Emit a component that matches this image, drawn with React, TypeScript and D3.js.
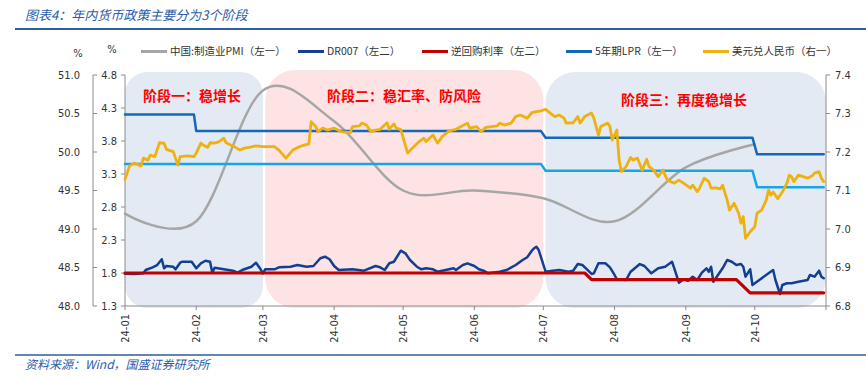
import React from "react";
import * as d3 from "d3";

// ---------- DATA ----------
const monthTickLabels = ["24-01", "24-02", "24-03", "24-04", "24-05", "24-06", "24-07", "24-08", "24-09", "24-10"];
const leftOuterTicks = [48.0, 48.5, 49.0, 49.5, 50.0, 50.5, 51.0];
const leftInnerTicks = [1.3, 1.8, 2.3, 2.8, 3.3, 3.8, 4.3, 4.8];
const rightTicks = [6.8, 6.9, 7.0, 7.1, 7.2, 7.3, 7.4];

const legendLabels = ["中国:制造业PMI（左一）", "DR007（左二）", "逆回购利率（左二）", "5年期LPR（左一）", "美元兑人民币（右一）"];
const stageLabels = ["阶段一：稳增长", "阶段二：稳汇率、防风险", "阶段三：再度稳增长"];
const stageStart = ["01-01", "03-02", "07-02"];
const stageEnd = ["03-01", "07-01", "11-01"];

const pmiDates = ["01-01", "02-01", "03-01", "04-01", "05-01", "06-01", "07-01", "08-01", "09-01", "10-01"];
const pmiValues = [49.2, 49.1, 50.8, 50.4, 49.5, 49.5, 49.4, 49.1, 49.8, 50.1];

const lpr5Dates = ["01-01", "01-31", "02-01", "06-30", "07-02", "09-30", "10-02", "10-31"];
const lpr5Values = [4.2, 4.2, 3.95, 3.95, 3.85, 3.85, 3.6, 3.6];
const lpr1Dates = ["01-01", "06-30", "07-02", "09-30", "10-02", "10-31"];
const lpr1Values = [3.45, 3.45, 3.35, 3.35, 3.1, 3.1];

const repoDates = ["01-01", "07-19", "07-22", "09-23", "09-29", "10-31"];
const repoValues = [1.8, 1.8, 1.7, 1.7, 1.5, 1.5];

const dr007Dates = ["01-01","01-05","01-09","01-10","01-13","01-15","01-17","01-18","01-19","01-22","01-23","01-25","01-26","01-30",
"02-01","02-03","02-05","02-07","02-08","02-09","02-13","02-17","02-19","02-21","02-25","02-27","02-29",
"03-01","03-02","03-06","03-08","03-13","03-16","03-20","03-23","03-26","03-28","03-30",
"04-01","04-03","04-09","04-14","04-19","04-21","04-23","04-25","04-27","04-30",
"05-02","05-04","05-07","05-09","05-11","05-14","05-16","05-21","05-23","05-24","05-27","05-29",
"06-01","06-03","06-05","06-07","06-12","06-15","06-19","06-22","06-24","06-26","06-27","06-28","06-29",
"07-02","07-05","07-08","07-12","07-14","07-16","07-18","07-20","07-22","07-23","07-25","07-28","07-30",
"08-01","08-02","08-06","08-08","08-12","08-14","08-17","08-20","08-23","08-26","08-27","08-29","08-31",
"09-02","09-04","09-06","09-08","09-10","09-11","09-12","09-13","09-15","09-17","09-19","09-21","09-23","09-25","09-26","09-27","09-29","09-30",
"10-03","10-07","10-09","10-10","10-12","10-13","10-15","10-17","10-20","10-24","10-25","10-27","10-29","10-30","10-31"];
const dr007Values = [1.79,1.785,1.795,1.845,1.886,1.921,2.008,1.871,1.906,1.895,1.856,1.956,1.971,1.971,
1.871,1.947,1.986,1.971,1.805,1.88,1.856,1.835,1.805,1.845,1.895,1.956,1.856,
1.795,1.856,1.856,1.886,1.895,1.921,1.895,1.906,2.023,2.047,2.008,
1.906,1.845,1.856,1.835,1.906,1.886,1.845,1.947,1.971,2.138,
2.098,1.997,1.895,1.856,1.871,1.856,1.82,1.856,1.871,1.845,1.921,1.947,
1.906,1.856,1.835,1.795,1.82,1.845,1.921,1.997,2.038,2.138,2.174,2.198,2.148,
1.82,1.835,1.845,1.82,1.835,1.936,1.921,1.856,1.785,1.795,1.947,1.947,1.886,
1.77,1.705,1.694,1.82,1.936,1.906,1.795,1.871,1.895,1.971,1.871,1.653,1.705,
1.683,1.744,1.694,1.805,1.871,1.82,1.895,1.668,1.77,1.871,1.997,1.971,1.921,1.936,1.895,1.744,1.856,1.618,
1.694,1.795,1.845,1.694,1.482,1.618,1.644,1.644,1.668,1.694,1.77,1.744,1.835,1.744,1.72];

const usdcnyDates = ["01-01","01-03","01-05","01-08","01-09","01-11","01-12","01-14","01-16","01-18","01-19","01-22","01-24","01-25","01-28","01-31",
"02-01","02-03","02-04","02-06","02-07","02-09","02-11","02-13","02-14","02-16","02-17","02-20","02-22","02-24","02-27",
"03-01","03-06","03-08","03-11","03-14","03-17","03-19","03-21","03-22","03-24","03-25","03-27","03-29",
"04-01","04-04","04-08","04-09","04-12","04-13","04-15","04-17","04-19","04-21","04-24","04-25","04-27","04-28","04-30",
"05-03","05-05","05-08","05-10","05-11","05-14","05-16","05-18","05-21","05-24","05-29","05-30",
"06-02","06-04","06-06","06-11","06-12","06-14","06-17","06-19","06-21","06-24","06-26","06-28","06-30",
"07-02","07-04","07-06","07-08","07-10","07-11","07-14","07-16","07-17","07-19","07-22","07-23","07-25","07-26","07-29","07-30","07-31",
"08-02","08-03","08-04","08-06","08-08","08-09","08-11","08-13","08-15","08-16","08-18","08-20","08-22","08-24","08-27","08-29","08-31",
"09-03","09-04","09-06","09-07","09-09","09-11","09-12","09-14","09-16","09-17","09-19","09-20","09-22","09-24","09-25","09-26","09-27","09-29",
"10-01","10-02","10-04","10-06","10-07","10-08","10-09","10-11","10-13","10-15","10-16","10-17","10-18","10-20","10-22","10-24","10-26","10-27","10-29","10-30","10-31"];
const usdcnyValues = [7.129,7.164,7.171,7.164,7.184,7.179,7.192,7.188,7.224,7.223,7.207,7.201,7.166,7.188,7.19,7.188,
7.197,7.223,7.218,7.212,7.224,7.223,7.227,7.236,7.224,7.218,7.216,7.205,7.21,7.212,7.216,
7.214,7.214,7.205,7.184,7.205,7.214,7.218,7.221,7.279,7.266,7.253,7.262,7.257,
7.262,7.253,7.25,7.266,7.268,7.275,7.27,7.253,7.257,7.259,7.276,7.259,7.273,7.262,7.258,
7.197,7.21,7.227,7.236,7.227,7.244,7.223,7.24,7.255,7.259,7.275,7.262,
7.266,7.253,7.264,7.268,7.275,7.27,7.275,7.292,7.296,7.288,7.302,7.305,7.307,
7.311,7.301,7.292,7.296,7.288,7.275,7.276,7.292,7.275,7.292,7.301,7.288,7.244,7.266,7.275,7.266,7.231,
7.257,7.179,7.149,7.162,7.186,7.179,7.184,7.153,7.181,7.162,7.153,7.136,7.153,7.127,7.119,7.127,7.119,
7.106,7.114,7.097,7.106,7.132,7.123,7.106,7.107,7.104,7.114,7.075,7.049,7.067,7.041,7.015,7.032,6.976,6.993,
7.006,7.041,7.049,7.075,7.101,7.088,7.096,7.079,7.096,7.119,7.14,7.136,7.123,7.14,7.136,7.132,7.138,7.145,7.149,7.132,7.123];

// ---------- HELPERS ----------
const parse = (s: string) => d3.timeParse("%Y-%m-%d")("2024-" + s) as Date;
const zip = (ds: string[], vs: number[]) => ds.map((d, i) => ({ d: parse(d), v: vs[i] }));

const W = 866, H = 380;
const X0 = 125, X1 = 826, Y0 = 75, Y1 = 306;

const x = d3.scaleTime().domain([parse("01-01"), parse("11-01")]).range([X0, X1]);
const yOuter = d3.scaleLinear().domain([48, 51]).range([Y1, Y0]);
const yInner = d3.scaleLinear().domain([1.3, 4.8]).range([Y1, Y0]);
const yRight = d3.scaleLinear().domain([6.8, 7.4]).range([Y1, Y0]);

const C = {
  pmi: "#A6A6A6",
  dr: "#123F93",
  repo: "#C00000",
  lpr5: "#1468BA",
  lpr1: "#16A6E6",
  fx: "#EDB112",
  axis: "#8C8C8C",
  text: "#333333",
  title: "#2A5CAA",
  rule: "#2E5C9E",
};

const AXIS_FONT = "'DejaVu Sans Condensed', 'Liberation Sans', Arial, sans-serif";
const CJK_FONT = "'Noto Sans CJK SC', 'Noto Sans', sans-serif";

export default function App() {
  const mk = (ys: d3.ScaleLinear<number, number>, curve: d3.CurveFactory = d3.curveLinear) =>
    d3.line<{ d: Date; v: number }>().x((p) => x(p.d)).y((p) => ys(p.v)).curve(curve);

  const pmiPath = mk(yOuter, d3.curveCardinal.tension(0))(zip(pmiDates, pmiValues)) || "";
  const drPath = mk(yInner)(zip(dr007Dates, dr007Values)) || "";
  const repoPath = mk(yInner)(zip(repoDates, repoValues)) || "";
  const lpr5Path = mk(yInner)(zip(lpr5Dates, lpr5Values)) || "";
  const lpr1Path = mk(yInner)(zip(lpr1Dates, lpr1Values)) || "";
  const fxPath = mk(yRight)(zip(usdcnyDates, usdcnyValues)) || "";

  const monthDates = monthTickLabels.map((_, i) => new Date(2024, i, 1));
  const stageFill = ["#E4EAF3", "#FDE3E3", "#E4EAF3"];
  const stageTop = [72, 70, 72];
  const stageTextX = [192, 404, 684];
  const stageTextY = [101, 101, 105];

  const legendColors = [C.pmi, C.dr, C.repo, C.lpr5, C.fx];
  const legendLineX = [141, 298, 422, 566, 703];

  return (
    <svg width={W} height={H} style={{ position: "absolute", left: 0, top: 0, background: "#fff" }}>
      <rect x={0} y={0} width={W} height={H} fill="#fff" />
      {/* title */}
      <text x={25} y={20} fontSize={13} fontStyle="italic" fill={C.title} fontFamily={CJK_FONT}>
        图表4：年内货币政策主要分为3个阶段
      </text>
      <line x1={15} x2={W} y1={29} y2={29} stroke={C.rule} strokeWidth={2} />
      <line x1={15} x2={W} y1={355} y2={355} stroke={C.rule} strokeWidth={1.5} />
      <text x={25} y={369} fontSize={12} fontStyle="italic" fill={C.title} fontFamily={CJK_FONT}>
        资料来源：Wind，国盛证券研究所
      </text>

      {/* stage backgrounds */}
      {stageLabels.map((_, i) => {
        const xa = x(parse(stageStart[i]));
        const xb = i === 2 ? X1 : x(parse(stageEnd[i]));
        return (
          <rect key={"st" + i} x={xa} y={stageTop[i]} width={xb - xa} height={308 - stageTop[i]}
            rx={i === 0 ? 22 : 30} ry={i === 0 ? 22 : 30} fill={stageFill[i]} />
        );
      })}
      {stageLabels.map((s, i) => (
        <text key={"sl" + i} x={stageTextX[i]} y={stageTextY[i]} textAnchor="middle" fontSize={14}
          fontWeight="bold" fill="#FF0000" fontFamily={CJK_FONT}>
          {s}
        </text>
      ))}

      {/* axes */}
      <g stroke={C.axis} strokeWidth={1} fill="none">
        <line x1={93} x2={93} y1={Y0} y2={Y1} />
        <line x1={X0} x2={X0} y1={Y0} y2={Y1} />
        <line x1={X1} x2={X1} y1={Y0} y2={Y1} />
        <line x1={X0} x2={X1} y1={Y1} y2={Y1} />
        {leftOuterTicks.map((t) => <line key={"lo" + t} x1={93} x2={97} y1={yOuter(t)} y2={yOuter(t)} />)}
        {leftInnerTicks.map((t) => <line key={"li" + t} x1={121} x2={X0} y1={yInner(t)} y2={yInner(t)} />)}
        {rightTicks.map((t) => <line key={"rt" + t} x1={X1} x2={X1 + 4} y1={yRight(t)} y2={yRight(t)} />)}
        {monthDates.map((d, i) => <line key={"xt" + i} x1={x(d)} x2={x(d)} y1={Y1} y2={Y1 + 4} />)}
        <line x1={X1} x2={X1} y1={Y1} y2={Y1 + 4} />
      </g>
      <g fontFamily={AXIS_FONT} fontSize={11} fill={C.text}>
        {leftOuterTicks.map((t) => (
          <text key={"lot" + t} x={80} y={yOuter(t)} dy="0.35em" textAnchor="end">{t.toFixed(1)}</text>
        ))}
        {leftInnerTicks.map((t) => (
          <text key={"lit" + t} x={117} y={yInner(t)} dy="0.35em" textAnchor="end">{t.toFixed(1)}</text>
        ))}
        {rightTicks.map((t) => (
          <text key={"rtt" + t} x={835} y={yRight(t)} dy="0.35em" textAnchor="start">{t.toFixed(1)}</text>
        ))}
        {monthDates.map((d, i) => (
          <text key={"xl" + i} transform={`translate(${x(d)},${Y1 + 8}) rotate(-90)`} dy="0.35em" textAnchor="end">
            {monthTickLabels[i]}
          </text>
        ))}
        <text x={78} y={53} dy="0.35em" textAnchor="middle">%</text>
        <text x={112} y={49} dy="0.35em" textAnchor="middle">%</text>
      </g>

      {/* series */}
      <g fill="none" strokeLinejoin="round" strokeLinecap="round">
        <path d={pmiPath} stroke={C.pmi} strokeWidth={2.5} />
        <path d={drPath} stroke={C.dr} strokeWidth={2.5} />
        <path d={repoPath} stroke={C.repo} strokeWidth={3.2} />
        <path d={lpr5Path} stroke={C.lpr5} strokeWidth={2.5} />
        <path d={lpr1Path} stroke={C.lpr1} strokeWidth={2.5} />
        <path d={fxPath} stroke={C.fx} strokeWidth={2.8} />
      </g>

      {/* legend */}
      <g fontFamily={CJK_FONT} fontSize={10.5} fill={C.text}>
        {legendLabels.map((l, i) => (
          <g key={"lg" + i}>
            <line x1={legendLineX[i]} x2={legendLineX[i] + 26} y1={51.5} y2={51.5} stroke={legendColors[i]} strokeWidth={3} />
            <text x={legendLineX[i] + 29} y={51.5} dy="0.35em">{l}</text>
          </g>
        ))}
      </g>
    </svg>
  );
}
